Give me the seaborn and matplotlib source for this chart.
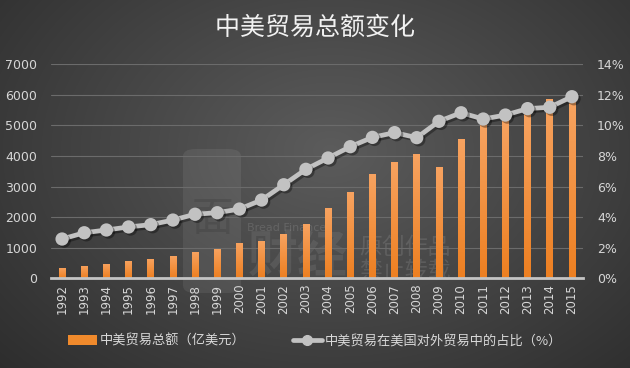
import numpy as np
import pandas as pd
import matplotlib
matplotlib.use("Agg")
import matplotlib.pyplot as plt
import matplotlib.patheffects as pe
from matplotlib.lines import Line2D
from matplotlib.patches import Patch, FancyBboxPatch
import seaborn as sns

years = [str(y) for y in range(1992, 2016)]
trade_total = [330, 400, 470, 570, 630, 740, 870, 960, 1160, 1220, 1450, 1780,
               2300, 2830, 3410, 3800, 4070, 3640, 4560, 5050, 5230, 5430, 5880, 5850]
share_pct = [2.57, 2.98, 3.16, 3.36, 3.51, 3.81, 4.19, 4.29, 4.53, 5.12, 6.12, 7.13,
             7.87, 8.61, 9.22, 9.53, 9.20, 10.27, 10.83, 10.42, 10.68, 11.10, 11.19, 11.88]
left_ticks = [0, 1000, 2000, 3000, 4000, 5000, 6000, 7000]
right_ticks = [0, 2, 4, 6, 8, 10, 12, 14]
title = "中美贸易总额变化"
label_bar = "中美贸易总额（亿美元）"
label_line = "中美贸易在美国对外贸易中的占比（%）"

df = pd.DataFrame({"year": years, "total": trade_total, "share": share_pct})

sns.set_theme(style="dark")
plt.rcParams['font.family'] = ['Noto Sans CJK SC', 'DejaVu Sans']

W, H = 630, 368
fig = plt.figure(figsize=(W / 100, H / 100), dpi=100)

# radial gradient background
bg = fig.add_axes([0, 0, 1, 1], zorder=-10)
yy, xx = np.mgrid[0:H, 0:W]
d = np.sqrt(((xx - 330) / 420.0) ** 2 + ((yy - 150) / 300.0) ** 2)
val = np.clip(0.36 - 0.17 * d, 0.17, 0.36)
bg.imshow(np.dstack([val, val, val]), extent=[0, 1, 0, 1], aspect="auto", origin="upper")
bg.set_xlim(0, 1)
bg.set_ylim(0, 1)
bg.axis("off")

# faint watermark logo
bg.add_patch(FancyBboxPatch((183 / W, 1 - 293 / H), 58 / W, 144 / H,
                            boxstyle="round,pad=0,rounding_size=0.02",
                            facecolor="white", alpha=0.07, edgecolor="none"))
bg.text(212 / W, 1 - 220 / H, "面", ha="center", va="center", fontsize=30,
        color="black", alpha=0.10)
bg.text(248 / W, 1 - 257 / H, "财经", ha="left", va="center", fontsize=36,
        color="white", alpha=0.08, fontweight="bold")
bg.text(247 / W, 1 - 228 / H, "Bread Finance", ha="left", va="center",
        fontsize=8, color="white", alpha=0.12, family="DejaVu Sans")
bg.text(359 / W, 1 - 259 / H, "原创作品\n禁止转载", ha="left", va="center",
        fontsize=16.5, color="white", alpha=0.11, linespacing=1.05)

ax = fig.add_axes([51 / W, 1 - 278.3 / H, (583 - 51) / W, (278.3 - 64.3) / H])
ax.set_facecolor("none")
ax.patch.set_alpha(0)

sns.barplot(data=df, x="year", y="total", ax=ax, color="#f08a2c", width=0.3,
            saturation=1, zorder=3, linewidth=0, edgecolor="none")

# gradient fill inside bars
grad = np.linspace(0, 1, 100).reshape(-1, 1)
top_c = np.array([0.97, 0.64, 0.38])
bot_c = np.array([0.93, 0.50, 0.13])
img = top_c * (1 - grad[..., None]) + bot_c * grad[..., None]
for p in ax.patches:
    x0, w = p.get_x(), p.get_width()
    h = p.get_height()
    im = ax.imshow(img, extent=[x0, x0 + w, 0, h], aspect="auto", zorder=3.5,
                   origin="upper", interpolation="bilinear")
    im.set_clip_path(p)
ax.set_xlim(-0.5, len(years) - 0.5)
ax.set_ylim(0, 7000)
ax.set_yticks(left_ticks)
ax.set_yticklabels([str(t) for t in left_ticks])
ax.yaxis.grid(True, color="#6b6b6b", linewidth=0.8, zorder=0)
ax.xaxis.grid(False)
ax.set_axisbelow(True)
for s in ["top", "right", "left"]:
    ax.spines[s].set_visible(False)
ax.spines["bottom"].set_color("#c4c4c4")
ax.spines["bottom"].set_linewidth(2)
ax.spines["bottom"].set_zorder(5)
ax.set_xlabel("")
ax.set_ylabel("")
ax.tick_params(axis="x", labelrotation=90, colors="#d6d6d6", labelsize=8.5, length=0, pad=4)
ax.tick_params(axis="y", colors="#d6d6d6", labelsize=9, length=0, pad=10)
for t in ax.get_xticklabels() + ax.get_yticklabels():
    t.set_family("DejaVu Sans")

ax2 = ax.twinx()
ax2.set_facecolor("none")
sns.pointplot(data=df, x="year", y="share", ax=ax2, color="#c2c2c2",
              markers="o", linewidth=3.4, markersize=7)
shadow = [pe.SimpleLineShadow(offset=(1.5, -1.5), shadow_color="black", alpha=0.35),
          pe.Normal()]
for ln in ax2.lines:
    ln.set_path_effects(shadow)
    ln.set_zorder(6)
for c in ax2.collections:
    c.set_path_effects([pe.SimplePatchShadow(offset=(1.5, -1.5), alpha=0.35), pe.Normal()])
    c.set_zorder(7)
ax2.set_xlim(-0.5, len(years) - 0.5)
ax2.set_ylim(0, 14)
ax2.set_yticks(right_ticks)
ax2.set_yticklabels([f"{t}%" for t in right_ticks])
ax2.grid(False)
for s in ["top", "right", "left", "bottom"]:
    ax2.spines[s].set_visible(False)
ax2.set_xlabel("")
ax2.set_ylabel("")
ax2.tick_params(axis="y", colors="#d6d6d6", labelsize=9, length=0, pad=10)
for t in ax2.get_yticklabels():
    t.set_family("DejaVu Sans")

# title
fig.text(0.5, 1 - 28 / H, title, ha="center", va="center", fontsize=18,
         color="#f2f2f2", fontweight="medium",
         path_effects=[pe.withSimplePatchShadow(offset=(1.2, -1.2), alpha=0.6)])

# legend
handles = [Patch(facecolor="#f08a2c", edgecolor="none"),
           Line2D([0], [0], color="#c2c2c2", linewidth=3.4, marker="o", markersize=7)]
leg = fig.legend(handles, [label_bar, label_line], loc="center",
                 bbox_to_anchor=(0.5, 1 - 341 / H), ncol=2, frameon=False,
                 fontsize=9.5, handlelength=2.2, handleheight=0.7,
                 columnspacing=3.6, handletextpad=0.2)
for t in leg.get_texts():
    t.set_color("#d9d9d9")

fig.savefig("out.png", dpi=100)
